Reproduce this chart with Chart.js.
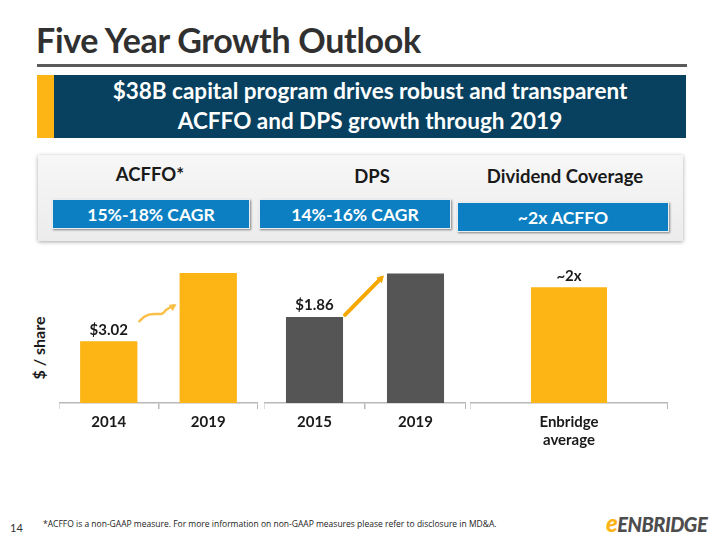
<!DOCTYPE html>
<html>
<head>
<meta charset="utf-8">
<script src="https://cdn.jsdelivr.net/npm/chart.js@4"></script>
<style>
  html, body { margin: 0; padding: 0; background: #fff; }
  body { width: 720px; height: 540px; position: relative; overflow: hidden; font-family: Lato, "Open Sans", sans-serif; }
  .abs { position: absolute; }
  #title { left: 36px; top: 19px; font-size: 34px; font-weight: 700; color: #303030; letter-spacing: -0.3px; }
  #rule { left: 37px; top: 64px; width: 650px; height: 3px; background: #5a5a5a; }
  #stripe { left: 37px; top: 75px; width: 17px; height: 63px; background: #fdb515; }
  #banner { left: 54px; top: 75px; width: 632px; height: 63px; background: #07415f; color: #fff;
            font-size: 22.5px; font-weight: 700; text-align: center; line-height: 30px; padding-top: 1px; box-sizing: border-box; }
  #panel { left: 38px; top: 155px; width: 645px; height: 86px;
           background: linear-gradient(#f7f7f7, #ececec); box-shadow: 0 1px 4px rgba(0,0,0,0.35); }
  .hdr { font-size: 18.5px; font-weight: 700; color: #1a1a1a; text-align: center; }
  .box { background: #0b7fc1; color: #fff; font-size: 17.5px; font-weight: 700; text-align: center;
         height: 30px; line-height: 30px; box-shadow: 1px 1px 2px rgba(0,0,0,0.45); border: 1px solid #e8eef2; box-sizing: border-box; }
  canvas { display: block; }
  #ylab { left: 0px; top: 337px; width: 80px; height: 22px; transform: rotate(-90deg); font-size: 16px; font-weight: 700;
          color: #1a1a1a; text-align: center; white-space: nowrap; }
  #pg { left: 10px; top: 521px; font-size: 11px; color: #333; }
  #note { left: 43px; top: 518px; font-size: 8.5px; color: #222; font-family: "Open Sans", sans-serif; }
  #logo { left: 606px; top: 508px; font-size: 20px; font-weight: 900; font-style: italic; color: #4d4d4d; letter-spacing: -0.5px; }
  #logo span { color: #fdb515; font-size: 24px; }
</style>
</head>
<body>
<div id="title" class="abs">Five Year Growth Outlook</div>
<div id="rule" class="abs"></div>
<div id="stripe" class="abs"></div>
<div id="banner" class="abs">$38B capital program drives robust and transparent<br>ACFFO and DPS growth through 2019</div>

<div id="panel" class="abs"></div>
<div class="abs hdr" style="left:60px;top:163px;width:180px;">ACFFO*</div>
<div class="abs hdr" style="left:282px;top:165px;width:180px;">DPS</div>
<div class="abs hdr" style="left:470px;top:165px;width:190px;">Dividend Coverage</div>
<div class="abs box" style="left:52px;top:199px;width:198px;">15%-18% CAGR</div>
<div class="abs box" style="left:259px;top:199px;width:192px;">14%-16% CAGR</div>
<div class="abs box" style="left:457px;top:202px;width:212px;">~2x ACFFO</div>

<div id="ylab" class="abs">$ / share</div>

<div class="abs" style="left:59px;top:220px;width:199px;height:215px;"><canvas id="c1"></canvas></div>
<div class="abs" style="left:264px;top:220px;width:202px;height:215px;"><canvas id="c2"></canvas></div>
<div class="abs" style="left:470px;top:238px;width:198px;height:215px;"><canvas id="c3"></canvas></div>

<div id="pg" class="abs">14</div>
<div id="note" class="abs">*ACFFO is a non-GAAP measure. For more information on non-GAAP measures please refer to disclosure in MD&amp;A.</div>
<div id="logo" class="abs"><span>e</span>ENBRIDGE</div>

<script>
// ACFFO per share
const acffoYears = ["2014", "2019"];
const acffoValues = [3.02, 6.36];
const acffoLabels = ["$3.02", ""];

// dividends per share
const dpsYears = ["2015", "2019"];
const dpsValues = [1.86, 2.80];
const dpsLabels = ["$1.86", ""];

// dividend coverage
const coverageCats = [["Enbridge", "average"]];
const coverageValues = [2];
const coverageLabels = ["~2x"];

const YELLOW = "#fdb515";
const GREY = "#555555";
const ARROW = "#f7a800";

Chart.defaults.font.family = "Lato, 'Open Sans', sans-serif";
Chart.defaults.animation = false;

// value labels above the bars
const valueLabels = {
    id: "valueLabels",
    afterDatasetsDraw(chart, args, opts) {
        const ctx = chart.ctx;
        const bars = chart.getDatasetMeta(0).data;
        ctx.save();
        ctx.font = "bold 15px Lato, 'Open Sans', sans-serif";
        ctx.fillStyle = "#1a1a1a";
        ctx.textAlign = "center";
        ctx.textBaseline = "bottom";
        bars.forEach((b, i) => {
            const t = opts.labels[i];
            if (t) ctx.fillText(t, b.x, b.y - 4);
        });
        ctx.restore();
    }
};

// growth arrow between the two bars
const growthArrow = {
    id: "growthArrow",
    afterDatasetsDraw(chart, args, opts) {
        if (!opts.style) return;
        const ctx = chart.ctx;
        const bars = chart.getDatasetMeta(0).data;
        if (bars.length < 2) return;
        const a = bars[0], b = bars[1];
        const x0 = a.x + a.width / 2 + 2;
        const x1 = b.x - b.width / 2 - 4;
        let y0, y1;
        ctx.save();
        ctx.strokeStyle = ARROW;
        ctx.fillStyle = ARROW;
        ctx.lineCap = "round";
        ctx.beginPath();
        if (opts.style === "curve") {
            y0 = a.y - 20;
            y1 = y0 - 17;
            ctx.lineWidth = 2.5;
            ctx.strokeStyle = "#f9c04a";
            ctx.fillStyle = "#f9c04a";
            ctx.moveTo(x0, y0);
            ctx.bezierCurveTo(x0 + 12, y0 - 14, x0 + 22, y0 - 2, x1 - 10, y1 + 6);
            ctx.lineTo(x1 - 2, y1 + 1);
        } else {
            y0 = a.y - 2;
            y1 = b.y + 2;
            ctx.lineWidth = 4;
            ctx.moveTo(x0, y0);
            ctx.lineTo(x1 - 2, y1 + 3);
        }
        ctx.stroke();
        // head
        const ang = opts.style === "curve" ? Math.atan2(-5, 8) : Math.atan2(y1 - y0, x1 - x0);
        const hx = x1 + 1, hy = y1;
        ctx.beginPath();
        ctx.moveTo(hx, hy);
        ctx.lineTo(hx - 8 * Math.cos(ang - 0.5), hy - 8 * Math.sin(ang - 0.5));
        ctx.lineTo(hx - 8 * Math.cos(ang + 0.5), hy - 8 * Math.sin(ang + 0.5));
        ctx.closePath();
        ctx.fill();
        ctx.restore();
    }
};

function montarGrafico(id, cats, valores, cor, yMax, barPct, labels, arrow, padTop) {
    new Chart(document.getElementById(id), {
        type: "bar",
        data: {
            labels: cats,
            datasets: [{
                data: valores,
                backgroundColor: cor,
                borderWidth: 0,
                barPercentage: barPct,
                categoryPercentage: 1
            }]
        },
        options: {
            responsive: true,
            maintainAspectRatio: false,
            layout: { padding: { top: padTop, left: 0, right: 0, bottom: 0 } },
            plugins: {
                legend: { display: false },
                tooltip: { enabled: false },
                valueLabels: { labels: labels },
                growthArrow: { style: arrow }
            },
            scales: {
                y: { display: false, min: 0, max: yMax },
                x: {
                    offset: true,
                    border: { color: "#b8b8b8", width: 1.5 },
                    grid: { offset: true, drawOnChartArea: false, tickLength: 6, color: "#b8b8b8", lineWidth: 1.5 },
                    ticks: { color: "#1a1a1a", font: { size: 15, weight: "bold" }, padding: 4 }
                }
            }
        },
        plugins: [valueLabels, growthArrow]
    });
}

montarGrafico("c1", acffoYears, acffoValues, YELLOW, 7.0, 0.576, acffoLabels, "curve", 40);
montarGrafico("c2", dpsYears, dpsValues, GREY, 3.09, 0.565, dpsLabels, "straight", 40);
montarGrafico("c3", coverageCats, coverageValues, YELLOW, 2.47, 0.384, coverageLabels, null, 22);
</script>
</body>
</html>
